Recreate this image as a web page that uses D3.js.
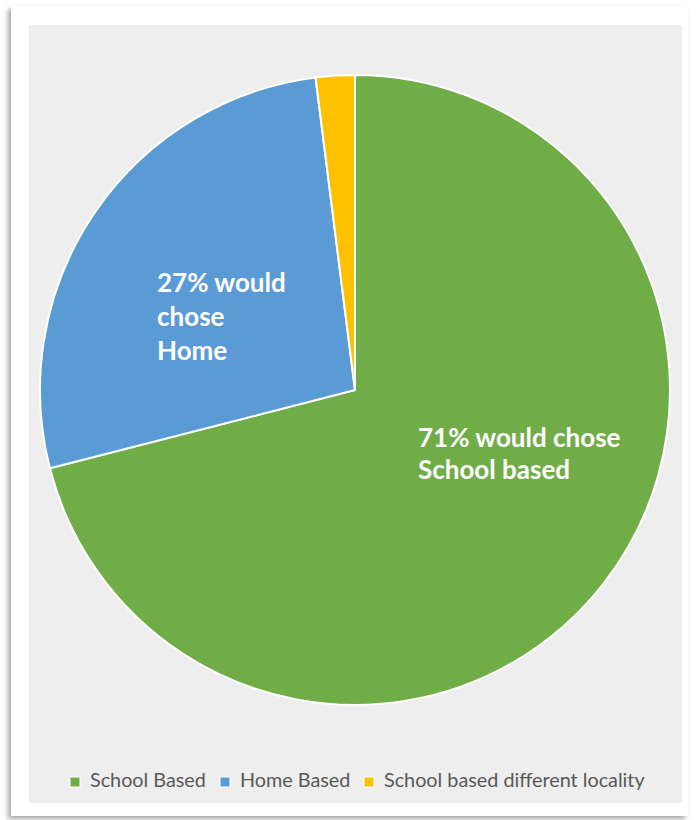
<!DOCTYPE html>
<html>
<head>
<meta charset="utf-8">
<script src="https://cdn.jsdelivr.net/npm/d3@7"></script>
<style>
  html, body { margin: 0; padding: 0; background: #ffffff; }
  svg { display: block; }
</style>
</head>
<body>
<svg id="chart" width="699" height="820"></svg>
<script>
// Preferred mode of schooling
const categories = ["School Based", "Home Based", "School based different locality"];
const shares = [71, 27, 2];
const colors = ["#70AD47", "#5B9BD5", "#FFC000"];
const sliceLabels = [["71% would chose", "School based"], ["27% would", "chose", "Home"], []];

const svg = d3.select("#chart");
const defs = svg.append("defs");

const shadow = defs.append("filter").attr("id", "cardShadow")
  .attr("x", "-5%").attr("y", "-5%").attr("width", "110%").attr("height", "110%");
shadow.append("feDropShadow")
  .attr("dx", -3).attr("dy", 3).attr("stdDeviation", 2.5)
  .attr("flood-color", "#000").attr("flood-opacity", 0.35);

// card and plot panel
svg.append("rect").attr("x", 11).attr("y", 6).attr("width", 677).attr("height", 810)
  .attr("fill", "#ffffff").attr("filter", "url(#cardShadow)");
svg.append("rect").attr("x", 29).attr("y", 25).attr("width", 653).attr("height", 778)
  .attr("fill", "#EEEEEE");

const cx = 355, cy = 390, radius = 315;

const pie = d3.pie().sort(null).value(d => d);
const arcs = pie(shares);
const arcGen = d3.arc().innerRadius(0).outerRadius(radius);

const g = svg.append("g").attr("transform", `translate(${cx},${cy})`);
g.selectAll("path.slice")
  .data(arcs)
  .join("path")
  .attr("class", "slice")
  .attr("d", arcGen)
  .attr("fill", (d, i) => colors[i])
  .attr("stroke", "#ffffff")
  .attr("stroke-width", 2)
  .attr("stroke-linejoin", "round");

// in-slice labels
const labelAnchors = [
  { x: 418, y: 440, step: 32 }, // School based
  { x: 157, y: 285, step: 34 }  // Home
];
[0, 1].forEach(i => {
  const t = svg.append("text")
    .attr("font-family", "Lato, 'Open Sans', sans-serif")
    .attr("font-weight", "bold")
    .attr("font-size", 26)
    .attr("fill", "#ffffff");
  sliceLabels[i].forEach((line, k) => {
    t.append("tspan")
      .attr("x", labelAnchors[i].x)
      .attr("y", labelAnchors[i].y + k * labelAnchors[i].step)
      .attr("dominant-baseline", "middle")
      .text(line);
  });
});

// legend
const legendX = [70, 220, 364];
const legendY = 782;
const leg = svg.append("g");
categories.forEach((c, i) => {
  leg.append("rect")
    .attr("x", legendX[i]).attr("y", legendY - 5)
    .attr("width", 10).attr("height", 10)
    .attr("fill", colors[i]).attr("stroke", "#ffffff").attr("stroke-width", 1);
  leg.append("text")
    .attr("x", legendX[i] + 20).attr("y", legendY)
    .attr("dominant-baseline", "middle")
    .attr("font-family", "Lato, 'Open Sans', sans-serif")
    .attr("font-size", 19.8)
    .attr("fill", "#595959")
    .text(c);
});
</script>
</body>
</html>
